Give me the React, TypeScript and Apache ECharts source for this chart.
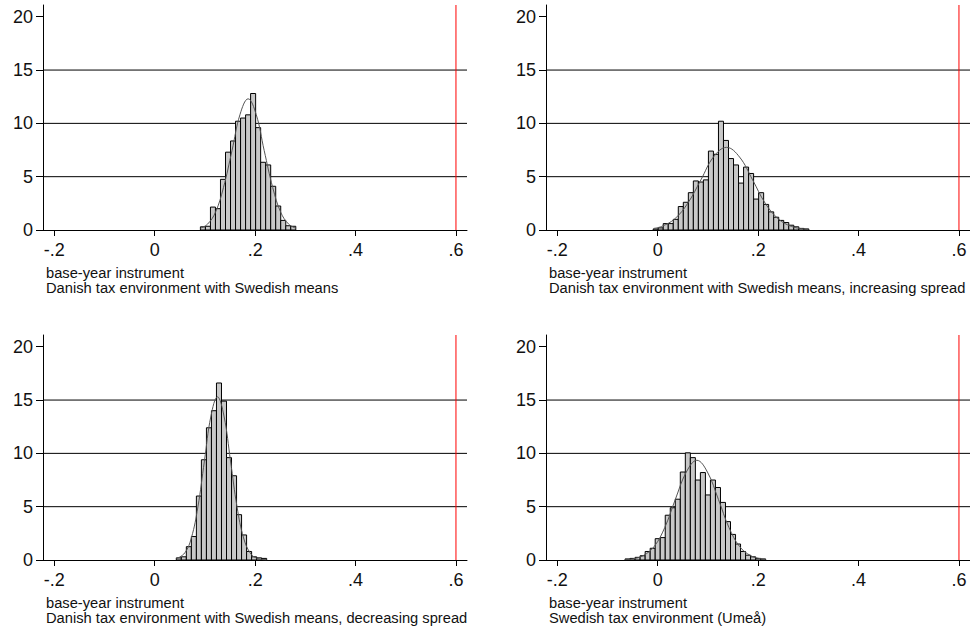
import React, { useEffect, useRef } from 'react';
import * as echarts from 'echarts';

// ---------- data ----------
const BIN_WIDTH = 0.01;
const xTickValues = [-0.2, 0, 0.2, 0.4, 0.6];
const xTickLabels = ['-.2', '0', '.2', '.4', '.6'];
const yTickValues = [0, 5, 10, 15, 20];
const yTickLabels = ['0', '5', '10', '15', '20'];
const gridLineValues = [5, 10, 15];
const referenceX = 0.6;

const captionLine1 = 'base-year instrument';
const panelCaptions = [
  'Danish tax environment with Swedish means',
  'Danish tax environment with Swedish means, increasing spread',
  'Danish tax environment with Swedish means, decreasing spread',
  'Swedish tax environment (Umeå)',
];

// Panel 1: Danish tax environment with Swedish means
const binCenters1 = [0.096, 0.106, 0.116, 0.126, 0.136, 0.146, 0.156, 0.166, 0.176, 0.186, 0.196, 0.206, 0.216, 0.226, 0.236, 0.246, 0.256, 0.266, 0.276];
const density1 = [0.3, 0.35, 2.15, 2.0, 4.75, 7.3, 8.35, 10.2, 10.5, 10.8, 12.8, 9.6, 6.35, 6.1, 4.1, 2.25, 0.9, 0.4, 0.35];
const curveX1 = [0.091, 0.105, 0.121, 0.137, 0.154, 0.170, 0.186, 0.202, 0.218, 0.235, 0.251, 0.267, 0.281];
const curveY1 = [0.17, 0.54, 1.66, 3.99, 7.46, 10.85, 12.3, 10.85, 7.46, 3.99, 1.66, 0.54, 0.17];

// Panel 2: increasing spread
const binCenters2 = [-0.004, 0.006, 0.016, 0.026, 0.036, 0.046, 0.056, 0.066, 0.076, 0.086, 0.096, 0.106, 0.116, 0.126, 0.136, 0.146, 0.156, 0.166, 0.176, 0.186, 0.196, 0.206, 0.216, 0.226, 0.236, 0.246, 0.256, 0.266, 0.276, 0.286, 0.296];
const density2 = [0.1, 0.2, 0.6, 0.6, 1.0, 2.2, 2.6, 3.5, 4.6, 4.5, 4.7, 7.4, 7.1, 10.2, 8.4, 6.7, 6.1, 4.4, 5.9, 5.3, 2.9, 3.5, 2.4, 1.7, 1.2, 0.9, 0.7, 0.45, 0.3, 0.15, 0.1];
const curveX2 = [-0.008, 0.008, 0.034, 0.060, 0.086, 0.111, 0.137, 0.163, 0.189, 0.214, 0.240, 0.266, 0.292, 0.300];
const curveY2 = [0.15, 0.34, 1.05, 2.52, 4.70, 6.84, 7.75, 6.84, 4.70, 2.52, 1.05, 0.34, 0.086, 0.05];

// Panel 3: decreasing spread
const binCenters3 = [0.048, 0.058, 0.068, 0.078, 0.088, 0.098, 0.108, 0.118, 0.128, 0.138, 0.148, 0.158, 0.168, 0.178, 0.188, 0.198, 0.208, 0.218];
const density3 = [0.2, 0.3, 1.25, 2.2, 6.0, 9.4, 12.4, 14.0, 16.6, 14.9, 9.6, 7.9, 4.25, 2.35, 0.8, 0.3, 0.2, 0.15];
const curveX3 = [0.043, 0.060, 0.073, 0.086, 0.099, 0.112, 0.125, 0.138, 0.151, 0.164, 0.177, 0.190, 0.203, 0.223];
const curveY3 = [0.11, 0.67, 2.07, 4.97, 9.28, 13.5, 15.3, 13.5, 9.28, 4.97, 2.07, 0.67, 0.17, 0.013];

// Panel 4: Swedish tax environment (Umeå)
const binCenters4 = [-0.060, -0.050, -0.040, -0.030, -0.020, -0.010, 0.000, 0.010, 0.020, 0.030, 0.040, 0.050, 0.060, 0.070, 0.080, 0.090, 0.100, 0.110, 0.120, 0.130, 0.140, 0.150, 0.160, 0.170, 0.180, 0.190, 0.200, 0.210];
const density4 = [0.1, 0.15, 0.25, 0.4, 0.8, 1.1, 2.0, 2.1, 4.2, 4.9, 5.7, 8.25, 10.05, 9.6, 7.5, 8.2, 6.1, 7.5, 6.8, 5.4, 3.6, 2.4, 1.5, 0.8, 0.45, 0.3, 0.15, 0.1];
const curveX4 = [-0.065, -0.050, -0.029, -0.007, 0.014, 0.035, 0.057, 0.078, 0.099, 0.121, 0.142, 0.163, 0.185, 0.206, 0.215];
const curveY4 = [0.034, 0.10, 0.41, 1.27, 3.04, 5.67, 8.25, 9.35, 8.25, 5.67, 3.04, 1.27, 0.41, 0.10, 0.054];

const panels = [
  { centers: binCenters1, heights: density1, cx: curveX1, cy: curveY1 },
  { centers: binCenters2, heights: density2, cx: curveX2, cy: curveY2 },
  { centers: binCenters3, heights: density3, cx: curveX3, cy: curveY3 },
  { centers: binCenters4, heights: density4, cx: curveX4, cy: curveY4 },
];

// ---------- layout / style ----------
const FONT = 'Liberation Sans, Arial, Helvetica, sans-serif';
const TEXT_COLOR = '#111';
const TICK_FONT_SIZE = 18;
const gridRects = [
  { left: 43, top: 5, width: 424, height: 225 },
  { left: 546, top: 5, width: 424, height: 225 },
  { left: 43, top: 335, width: 424, height: 225 },
  { left: 546, top: 335, width: 424, height: 225 },
];
const X_MIN = -0.2225;
const X_MAX = 0.622;
const Y_MIN = 0;
const Y_MAX = 21.1;

function labelFor(values: number[], labels: string[], v: number) {
  for (let i = 0; i < values.length; i++) {
    if (Math.abs(values[i] - v) < 1e-6) return labels[i];
  }
  return '';
}

export default function App() {
  const ref = useRef<HTMLDivElement>(null);

  useEffect(() => {
    document.body.style.margin = '0';
    if (!ref.current) return;
    const chart = echarts.init(ref.current, undefined, { renderer: 'svg' });

    const grid = gridRects.map((g) => ({ ...g, containLabel: false }));

    const xAxis = gridRects.map((_, i) => ({
      type: 'value',
      gridIndex: i,
      min: X_MIN,
      max: X_MAX,
      axisLine: { show: true, onZero: false, lineStyle: { color: '#000', width: 1 } },
      axisTick: {
        show: true,
        customValues: xTickValues,
        length: 6,
        lineStyle: { color: '#000', width: 1 },
      },
      axisLabel: {
        show: true,
        customValues: xTickValues,
        formatter: (v: number) => labelFor(xTickValues, xTickLabels, v),
        fontSize: TICK_FONT_SIZE,
        fontFamily: FONT,
        color: TEXT_COLOR,
        margin: 11,
      },
      splitLine: { show: false },
    }));

    const yAxis = gridRects.map((_, i) => ({
      type: 'value',
      gridIndex: i,
      min: Y_MIN,
      max: Y_MAX,
      axisLine: { show: true, onZero: false, lineStyle: { color: '#000', width: 1 } },
      axisTick: {
        show: true,
        customValues: yTickValues,
        length: 7,
        lineStyle: { color: '#000', width: 1 },
      },
      axisLabel: {
        show: true,
        customValues: yTickValues,
        formatter: (v: number) => labelFor(yTickValues, yTickLabels, v),
        fontSize: TICK_FONT_SIZE,
        fontFamily: FONT,
        color: TEXT_COLOR,
        margin: 10,
      },
      splitLine: { show: false },
    }));

    const series: any[] = [];
    panels.forEach((p, i) => {
      // horizontal grid lines (behind bars)
      gridLineValues.forEach((v) => {
        series.push({
          type: 'line',
          xAxisIndex: i,
          yAxisIndex: i,
          z: 1,
          silent: true,
          showSymbol: false,
          data: [[X_MIN, v], [X_MAX, v]],
          lineStyle: { color: '#000', width: 1 },
        });
      });
      // histogram bars
      series.push({
        type: 'custom',
        xAxisIndex: i,
        yAxisIndex: i,
        z: 2,
        silent: true,
        encode: { x: 0, y: 1 },
        data: p.centers.map((c, k) => [c, p.heights[k]]),
        renderItem: (params: any, api: any) => {
          const c = api.value(0);
          const h = api.value(1);
          const p0 = api.coord([c - BIN_WIDTH / 2, h]);
          const p1 = api.coord([c + BIN_WIDTH / 2, 0]);
          return {
            type: 'rect',
            shape: { x: p0[0], y: p0[1], width: p1[0] - p0[0], height: p1[1] - p0[1] },
            style: { fill: '#c8c8c8', stroke: '#000', lineWidth: 1 },
          };
        },
      });
      // normal density curve
      series.push({
        type: 'line',
        xAxisIndex: i,
        yAxisIndex: i,
        z: 3,
        silent: true,
        showSymbol: false,
        smooth: 0.4,
        data: p.cx.map((x, k) => [x, p.cy[k]]),
        lineStyle: { color: '#555', width: 1 },
      });
      // red reference line
      series.push({
        type: 'line',
        xAxisIndex: i,
        yAxisIndex: i,
        z: 4,
        silent: true,
        showSymbol: false,
        clip: false,
        data: [[referenceX, Y_MIN], [referenceX, Y_MAX]],
        lineStyle: { color: '#ff0000', width: 1 },
      });
    });

    const graphic = gridRects.map((g, i) => ({
      type: 'text',
      x: g.left + 3,
      y: g.top + g.height + 36,
      silent: true,
      style: {
        text: captionLine1 + '\n' + panelCaptions[i],
        font: `14.7px ${FONT}`,
        fill: TEXT_COLOR,
        lineHeight: 14.5,
        textVerticalAlign: 'top',
        verticalAlign: 'top',
      },
    }));

    chart.setOption({
      animation: false,
      backgroundColor: '#fff',
      grid,
      xAxis,
      yAxis,
      series,
      graphic,
    });

    return () => {
      chart.dispose();
    };
  }, []);

  return <div ref={ref} style={{ width: 970, height: 630 }} />;
}
